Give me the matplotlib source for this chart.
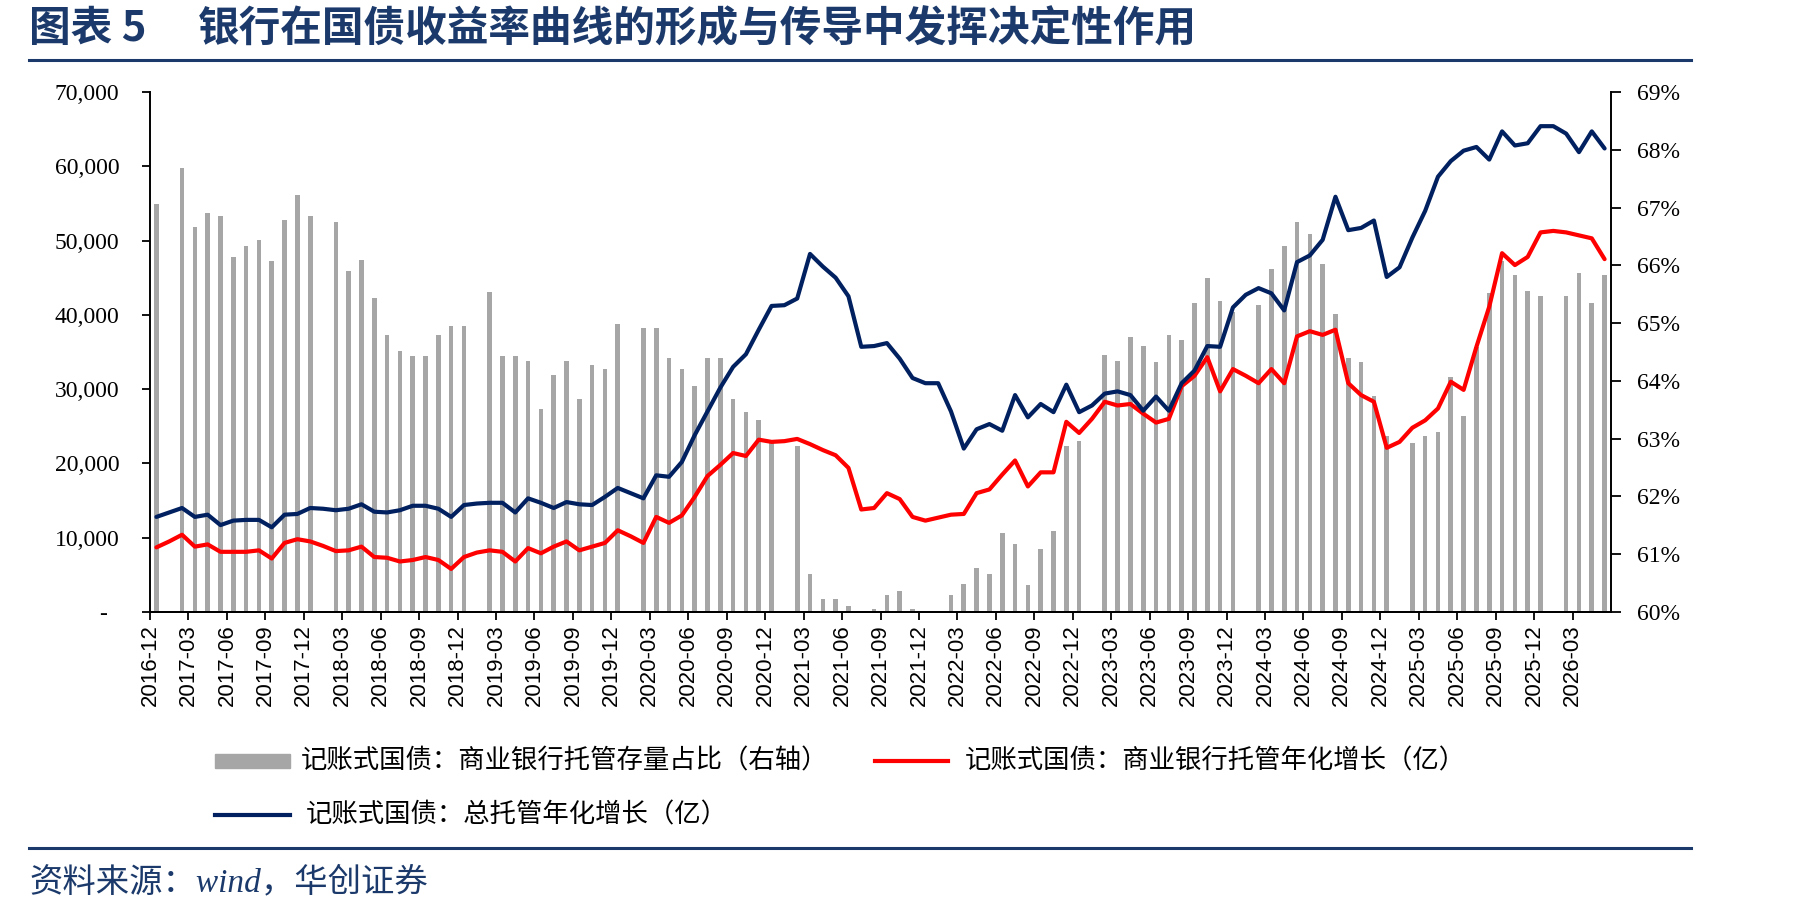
# -*- coding: utf-8 -*-
"""
图表 5：记账式国债托管——商业银行存量占比（柱，右轴）与年化增长（线，左轴）。
月度数据 2016-12 ~ 2026-05，数值按原图读取。
"""
import numpy as np
import pandas as pd
import matplotlib
matplotlib.use("Agg")
import matplotlib.pyplot as plt
from matplotlib.ticker import FuncFormatter
from matplotlib.lines import Line2D
from matplotlib.patches import Rectangle

plt.rcParams['font.family'] = ['Noto Sans CJK SC', 'DejaVu Sans']

# ---------- 数据 ----------
months = pd.period_range('2016-12', '2026-05', freq='M').strftime('%Y-%m').tolist()
nan = np.nan

# 记账式国债：商业银行托管存量占比（%，右轴）
share_pct = [
    67.06, nan, 67.69, 66.66, 66.90, 66.85, 66.14, 66.34, 66.43, 66.07, 66.78, 67.22, 66.85,   # 2016-12..2017-12
    nan, 66.75, 65.91, 66.10, 65.43, 64.79, 64.51, 64.43, 64.43, 64.79, 64.95, 64.95,          # 2018
    nan, 65.54, 64.43, 64.43, 64.35, 63.52, 64.11, 64.35, 63.68, 64.27, 64.20, 64.99,          # 2019
    nan, 64.92, 64.92, 64.39, 64.20, 63.92, 64.39, 64.39, 63.68, 63.47, 63.32, 62.95,          # 2020
    nan, 62.88, 60.66, 60.22, 60.22, 60.10, nan, 60.06, 60.30, 60.37, 60.06, nan,              # 2021
    nan, 60.30, 60.49, 60.77, 60.66, 61.37, 61.17, 60.46, 61.09, 61.41, 62.88, 62.96,          # 2022
    nan, 64.44, 64.35, 64.76, 64.60, 64.32, 64.79, 64.71, 65.35, 65.78, 65.39, 65.19,          # 2023
    nan, 65.31, 65.94, 66.34, 66.75, 66.54, 66.03, 65.15, 64.39, 64.32, 63.73, 63.05,          # 2024
    nan, 62.92, 63.05, 63.12, 64.07, 63.40, 64.59, 65.52, 66.08, 65.83, 65.55, 65.47,          # 2025
    nan, 65.47, 65.87, 65.35, 65.83,                                                           # 2026-01..05
]

# 记账式国债：商业银行托管年化增长（亿）
bank_growth = [
    8700, 9500, 10400, 8800, 9100, 8100, 8100, 8100, 8300, 7200, 9300, 9800, 9500,
    8900, 8200, 8300, 8800, 7400, 7300, 6800, 7000, 7400, 7000, 5800, 7400,
    8000, 8300, 8100, 6800, 8600, 7900, 8800, 9500, 8300, 8800, 9300, 11000,
    10200, 9300, 12800, 12000, 13000, 15500, 18300, 19800, 21400, 21000, 23200, 22900,
    23000, 23300, 22600, 21800, 21100, 19400, 13800, 14000, 16000, 15200, 12800, 12300,
    12700, 13100, 13200, 16000, 16500, 18500, 20400, 16900, 18800, 18800, 25600, 24100,
    26000, 28300, 27800, 28000, 26700, 25500, 26000, 30400, 31800, 34300, 29700, 32700,
    31800, 30800, 32700, 30800, 37100, 37800, 37300, 38000, 30800, 29200, 28300, 22100,
    22900, 24800, 25800, 27400, 31000, 29900, 35700, 41100, 48300, 46700, 47800, 51100,
    51300, 51100, 50700, 50300, 47500,
]

# 记账式国债：总托管年化增长（亿）
total_growth = [
    12800, 13400, 14000, 12800, 13100, 11700, 12300, 12400, 12400, 11400, 13100, 13200, 14000,
    13900, 13700, 13900, 14500, 13500, 13400, 13700, 14300, 14300, 13900, 12800, 14400,
    14600, 14700, 14700, 13400, 15300, 14700, 14000, 14800, 14500, 14400, 15500, 16700,
    16000, 15300, 18400, 18200, 20200, 23800, 27000, 30200, 33000, 34700, 38000, 41200,
    41300, 42200, 48200, 46500, 45000, 42500, 35700, 35800, 36200, 34100, 31500, 30800,
    30800, 27000, 22000, 24600, 25300, 24400, 29200, 26200, 28000, 26900, 30600, 26900,
    27800, 29400, 29700, 29200, 27100, 29000, 27100, 30800, 32500, 35800, 35700, 41000,
    42700, 43600, 42900, 40600, 47100, 48000, 50100, 55900, 51400, 51700, 52700, 45100,
    46400, 50400, 54000, 58600, 60700, 62100, 62600, 60900, 64700, 62800, 63100, 65400,
    65400, 64400, 61900, 64700, 62400,
]

tick_labels = months[::3]

# ---------- 画布 ----------
W, H = 1801, 913
NAVY = '#1B3A6B'


def fx(px):
    return px / W


def fy(py):
    return 1 - py / H


fig = plt.figure(figsize=(W / 100, H / 100), dpi=100)
ax = fig.add_axes([fx(150), fy(612), fx(1611 - 150), (612 - 92) / H])
ax2 = ax.twinx()

x = np.arange(len(months)) + 0.5

ax2.bar(x, share_pct, width=0.36, color='#A6A6A6', linewidth=0)
ax.plot(x, bank_growth, color='#FF0000', lw=3.0, solid_joinstyle='round', solid_capstyle='round')
ax.plot(x, total_growth, color='#002060', lw=3.0, solid_joinstyle='round', solid_capstyle='round')

ax.set_zorder(ax2.get_zorder() + 1)
ax.patch.set_visible(False)

ax.set_xlim(0, len(months))
ax.set_ylim(0, 70000)
ax2.set_ylim(60, 69)

ax.set_xticks(np.arange(0, len(months) - 1, 3))
ax.set_xticklabels(tick_labels, rotation=90, fontsize=16, family='Liberation Sans')
ax.set_yticks(np.arange(0, 70001, 10000))
ax.yaxis.set_major_formatter(FuncFormatter(lambda v, p: '-  ' if v == 0 else f'{v:,.0f}'))
ax2.set_yticks(np.arange(60, 70))
ax2.yaxis.set_major_formatter(FuncFormatter(lambda v, p: f'{v:.0f}%'))

for lab in ax.get_yticklabels() + ax2.get_yticklabels():
    lab.set_family('Liberation Serif')
    lab.set_fontsize(17)

for a in (ax, ax2):
    a.spines['top'].set_visible(False)
    for s in a.spines.values():
        s.set_linewidth(1.4)
        s.set_color('black')
ax2.spines['left'].set_visible(False)
ax.spines['right'].set_visible(False)

ax.tick_params(axis='x', direction='out', length=6, width=1.3, pad=3)
ax.tick_params(axis='y', direction='out', length=6, width=1.3, pad=16)
ax2.tick_params(axis='y', direction='out', length=7, width=1.3, pad=12)

# ---------- 标题与分隔线 ----------
fig.text(fx(29), fy(29), '图表 5', fontsize=30, weight='bold', color=NAVY, va='center')
fig.text(fx(198), fy(29), '银行在国债收益率曲线的形成与传导中发挥决定性作用',
         fontsize=30, weight='bold', color=NAVY, va='center')
fig.add_artist(Line2D([fx(29), fx(1691)], [fy(60), fy(60)], color=NAVY, lw=2.2,
                      transform=fig.transFigure))
fig.add_artist(Line2D([fx(29), fx(1691)], [fy(848), fy(848)], color=NAVY, lw=2.2,
                      transform=fig.transFigure))

# ---------- 图例 ----------
fig.add_artist(Rectangle((fx(215), fy(768)), fx(75), 14 / H, color='#A6A6A6',
                         transform=fig.transFigure))
fig.text(fx(301), fy(761), '记账式国债：商业银行托管存量占比（右轴）', fontsize=19, va='center')
fig.add_artist(Line2D([fx(875), fx(948)], [fy(761), fy(761)], color='#FF0000', lw=3,
                      transform=fig.transFigure))
fig.text(fx(965), fy(761), '记账式国债：商业银行托管年化增长（亿）', fontsize=19, va='center')
fig.add_artist(Line2D([fx(215), fx(290)], [fy(815), fy(815)], color='#002060', lw=3,
                      transform=fig.transFigure))
fig.text(fx(306), fy(815), '记账式国债：总托管年化增长（亿）', fontsize=19, va='center')

# ---------- 资料来源 ----------
fig.text(fx(29), fy(882), '资料来源：wind，华创证券', fontsize=24, color=NAVY, va='center',
         family=['Liberation Serif', 'Noto Sans CJK SC'], style='italic')

fig.savefig('out.png', dpi=100)
